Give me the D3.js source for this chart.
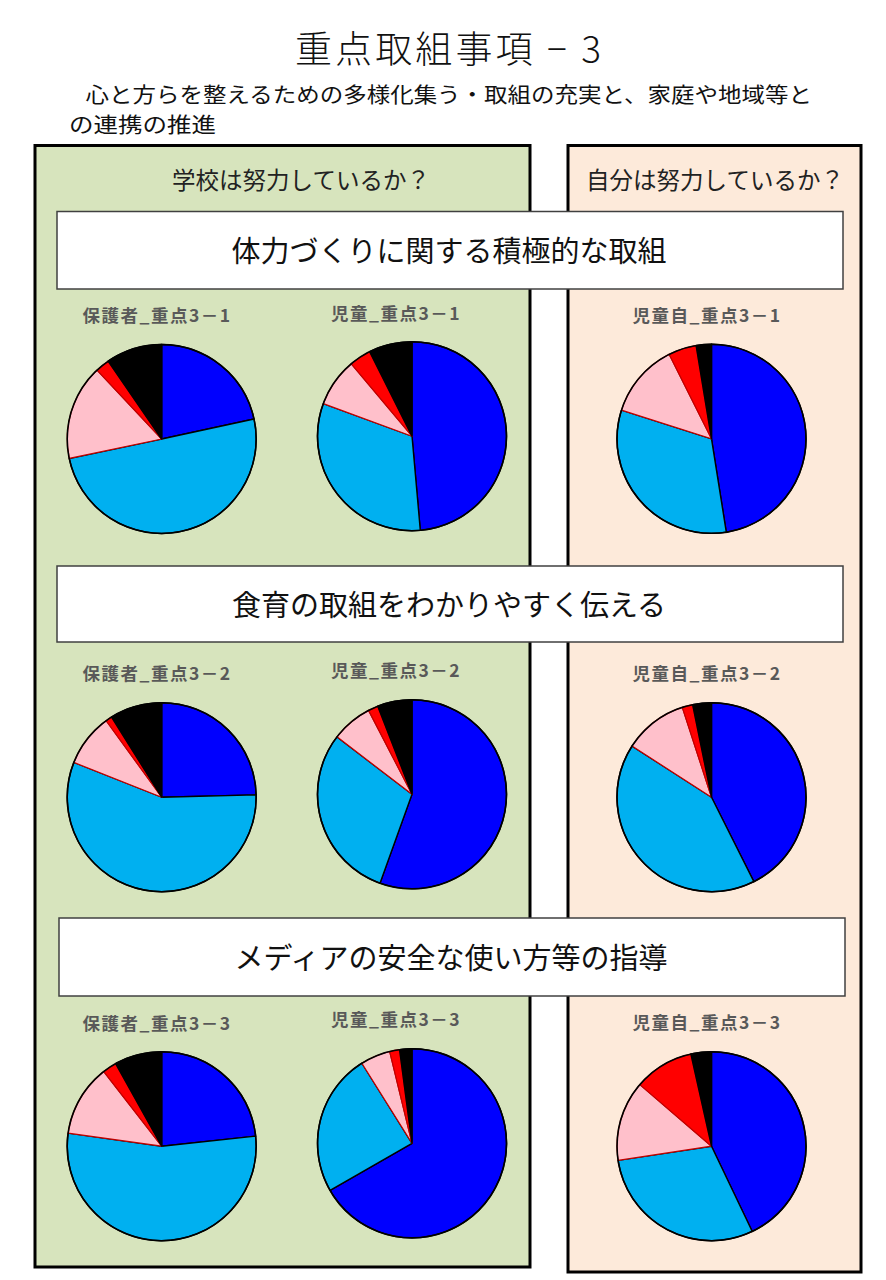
<!DOCTYPE html>
<html>
<head>
<meta charset="utf-8">
<script src="https://cdn.jsdelivr.net/npm/d3@7"></script>
<style>
html, body { margin: 0; padding: 0; background: #ffffff; }
svg { display: block; }
text { font-family: "Noto Sans CJK JP", "Noto Sans", sans-serif; }
</style>
</head>
<body>
<div id="chart"></div>
<script>
// ---- data ----
const categories = ["よくできている", "だいたいできている", "あまりできていない", "できていない", "わからない"];
const pieColors = ["#0000ff", "#00b0f0", "#ffc0cb", "#ff0000", "#000000"];

const parent31 = [21.6, 50.1, 16.3, 2.4, 9.6];
const child31  = [48.6, 32.0, 8.3, 3.7, 7.4];
const self31   = [47.5, 32.4, 12.7, 4.8, 2.6];

const parent32 = [24.6, 56.4, 9.0, 1.1, 8.9];
const child32  = [55.5, 29.9, 7.0, 1.7, 5.9];
const self32   = [42.6, 41.5, 10.9, 1.8, 3.2];

const parent33 = [23.3, 53.9, 12.3, 2.4, 8.1];
const child33  = [66.7, 24.4, 5.1, 1.7, 2.1];
const self33   = [42.9, 29.7, 13.7, 10.2, 3.5];

const pieLabels = [
  ["保護者_重点3－1", "児童_重点3－1", "児童自_重点3－1"],
  ["保護者_重点3－2", "児童_重点3－2", "児童自_重点3－2"],
  ["保護者_重点3－3", "児童_重点3－3", "児童自_重点3－3"]
];
const sectionTitles = ["体力づくりに関する積極的な取組", "食育の取組をわかりやすく伝える", "メディアの安全な使い方等の指導"];
const panelTitles = ["学校は努力しているか？", "自分は努力しているか？"];
const mainTitle = "重点取組事項 − 3";
const subtitleLines = ["　心と方らを整えるための多様化集う・取組の充実と、家庭や地域等と", "の連携の推進"];

const pieRows = [
  [parent31, child31, self31],
  [parent32, child32, self32],
  [parent33, child33, self33]
];

// ---- layout ----
const W = 886, H = 1280;
const svg = d3.select("#chart").append("svg").attr("width", W).attr("height", H);

// panels
svg.append("rect").attr("x", 35).attr("y", 145.5).attr("width", 495).attr("height", 1121.5)
  .attr("fill", "#d7e4bd").attr("stroke", "#000").attr("stroke-width", 3);
svg.append("rect").attr("x", 568).attr("y", 145.5).attr("width", 293).attr("height", 1126.5)
  .attr("fill", "#fdeada").attr("stroke", "#000").attr("stroke-width", 3);

// title
svg.append("text").attr("x", 295).attr("y", 63)
  .attr("font-size", 37).attr("font-weight", 300).attr("fill", "#111")
  .attr("textLength", 306).attr("lengthAdjust", "spacing")
  .text(mainTitle);

// subtitle
const subPos = [[62, 101.5, 750], [69, 132, 147]];
subtitleLines.forEach((s, i) => {
  svg.append("text").attr("x", subPos[i][0]).attr("y", subPos[i][1])
    .attr("font-size", 21).attr("fill", "#111")
    .attr("textLength", subPos[i][2]).attr("lengthAdjust", "spacingAndGlyphs")
    .text(s);
});

// panel titles
const panelTitleX = [301, 715];
panelTitles.forEach((t, i) => {
  svg.append("text").attr("x", panelTitleX[i]).attr("y", 189)
    .attr("text-anchor", "middle").attr("font-size", 23.5).attr("fill", "#222").text(t);
});

// section header boxes
const boxes = [[57, 211.5, 786, 77.5], [57, 566, 786, 76], [59, 918, 786, 78]];
sectionTitles.forEach((t, i) => {
  const b = boxes[i];
  svg.append("rect").attr("x", b[0]).attr("y", b[1]).attr("width", b[2]).attr("height", b[3])
    .attr("fill", "#fff").attr("stroke", "#404040").attr("stroke-width", 1.5);
  svg.append("text").attr("x", b[0] + b[2] / 2 - 1).attr("y", b[1] + b[3] / 2 + 12)
    .attr("text-anchor", "middle").attr("font-size", 29).attr("fill", "#111").text(t);
});

// pies
const colX = [161.7, 412, 711.5];
const rowY = [[439, 436.2, 438.8], [797.2, 794.3, 797.2], [1146.2, 1143.3, 1146.2]];
const labelX = [157, 396, 707];
const labelY = [[322, 320, 322], [680, 677, 680], [1030, 1026, 1029]];
const R = 94.5;

const pie = d3.pie().sort(null).value(d => d).startAngle(0).endAngle(2 * Math.PI);
const arc = d3.arc().innerRadius(0).outerRadius(R);
const colorScale = d3.scaleOrdinal().domain(d3.range(categories.length)).range(pieColors);
const strokeScale = d3.scaleOrdinal().domain(d3.range(categories.length))
  .range(["#000", "#000", "#c00000", "#c00000", "#000"]);

pieRows.forEach((row, ri) => {
  row.forEach((vals, ci) => {
    const g = svg.append("g").attr("transform", `translate(${colX[ci]},${rowY[ri][ci]})`);
    g.selectAll("path").data(pie(vals)).join("path")
      .attr("d", arc)
      .attr("fill", (d, i) => colorScale(i))
      .attr("stroke", (d, i) => strokeScale(i))
      .attr("stroke-width", (d, i) => (i === 2 || i === 3) ? 1.2 : 1.4)
      .attr("stroke-linejoin", "round");
    g.append("circle").attr("r", R).attr("fill", "none")
      .attr("stroke", "#000").attr("stroke-width", 1.6);
    svg.append("text").attr("x", labelX[ci]).attr("y", labelY[ri][ci])
      .attr("text-anchor", "middle").attr("font-size", 17.5).attr("font-weight", 700)
      .attr("letter-spacing", 1.5).attr("fill", "#595959").text(pieLabels[ri][ci]);
  });
});
</script>
</body>
</html>
